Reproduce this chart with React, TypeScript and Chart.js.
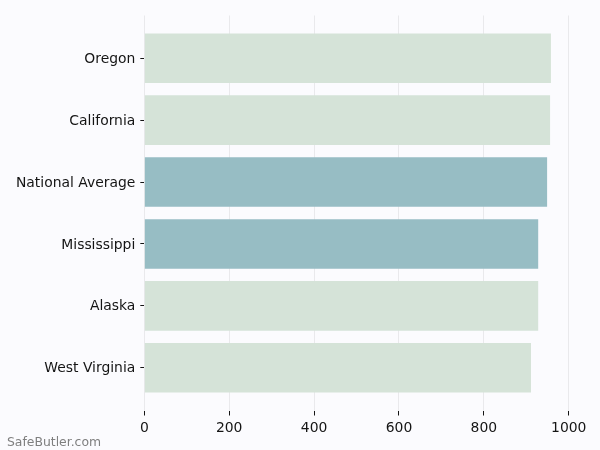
import React, { useEffect, useRef } from "react";
import { Chart, registerables, Plugin } from "chart.js";

Chart.register(...registerables);

const categories = [
  "Oregon",
  "California",
  "National Average",
  "Mississippi",
  "Alaska",
  "West Virginia",
];
const values = [958, 956, 949, 928, 928, 911];
const highlighted = [false, false, true, true, false, false];
const xTicks = [0, 200, 400, 600, 800, 1000];

const BG = "#fbfbfe";
const BAR = "#d5e3d8";
const BAR_HI = "#97bdc4";
const TEXT = "#141414";

// background + watermark
const decor: Plugin<"bar"> = {
  id: "decor",
  beforeDraw(chart) {
    const { ctx, width, height } = chart;
    ctx.save();
    ctx.fillStyle = BG;
    ctx.fillRect(0, 0, width, height);
    ctx.restore();
  },
  afterDraw(chart) {
    const { ctx } = chart;
    ctx.save();
    ctx.font = "12.4px 'DejaVu Sans'";
    ctx.fillStyle = "#7f7f7f";
    ctx.textBaseline = "alphabetic";
    ctx.textAlign = "left";
    ctx.fillText("SafeButler.com", 7, 446);
    ctx.restore();
  },
};

export default function App() {
  const canvasRef = useRef<HTMLCanvasElement | null>(null);
  const chartRef = useRef<Chart | null>(null);

  useEffect(() => {
    document.body.style.margin = "0";
    document.body.style.background = BG;
    if (!canvasRef.current) return;
    if (chartRef.current) chartRef.current.destroy();

    const font = { family: "'DejaVu Sans'", size: 13.9 };

    chartRef.current = new Chart(canvasRef.current, {
      type: "bar",
      data: {
        datasets: [
          {
            data: categories.map((_, i) => ({ x: values[i], y: i })),
            backgroundColor: highlighted.map((h) => (h ? BAR_HI : BAR)),
            barPercentage: 0.8,
            categoryPercentage: 1,
            borderWidth: 0,
          },
        ],
      },
      options: {
        indexAxis: "y",
        animation: false,
        responsive: false,
        devicePixelRatio: 1,
        layout: { padding: { top: 15.5, right: 28.7, left: 0, bottom: 0 } },
        plugins: {
          legend: { display: false },
          tooltip: { enabled: false },
        },
        scales: {
          x: {
            type: "linear",
            min: 0,
            max: 1006,
            afterBuildTicks: (axis) => {
              axis.ticks = xTicks.map((v) => ({ value: v }));
            },
            afterFit: (axis) => {
              axis.height = 39.5;
            },
            border: { display: false },
            grid: {
              color: "#e9e9ec",
              tickColor: TEXT,
              tickLength: 5,
              lineWidth: 1,
            },
            ticks: {
              color: TEXT,
              font,
              padding: 5,
              maxRotation: 0,
              callback: (v) => String(v),
            },
          },
          y: {
            type: "linear",
            reverse: true,
            offset: false,
            min: -0.69,
            max: 5.69,
            afterBuildTicks: (axis) => {
              axis.ticks = categories.map((_, i) => ({ value: i }));
            },
            afterFit: (axis) => {
              axis.width = 144.3;
            },
            border: { display: false },
            grid: {
              offset: false,
              drawOnChartArea: false,
              drawTicks: true,
              tickLength: 4,
              tickColor: TEXT,
            },
            ticks: {
              color: TEXT,
              font,
              padding: 5,
              labelOffset: 1,
              callback: (v) => categories[Number(v)] ?? "",
            },
          },
        },
      },
      plugins: [decor],
    });

    return () => {
      if (chartRef.current) {
        chartRef.current.destroy();
        chartRef.current = null;
      }
    };
  }, []);

  return (
    <div style={{ width: 600, height: 450, position: "relative" }}>
      <canvas ref={canvasRef} width={600} height={450} />
    </div>
  );
}
